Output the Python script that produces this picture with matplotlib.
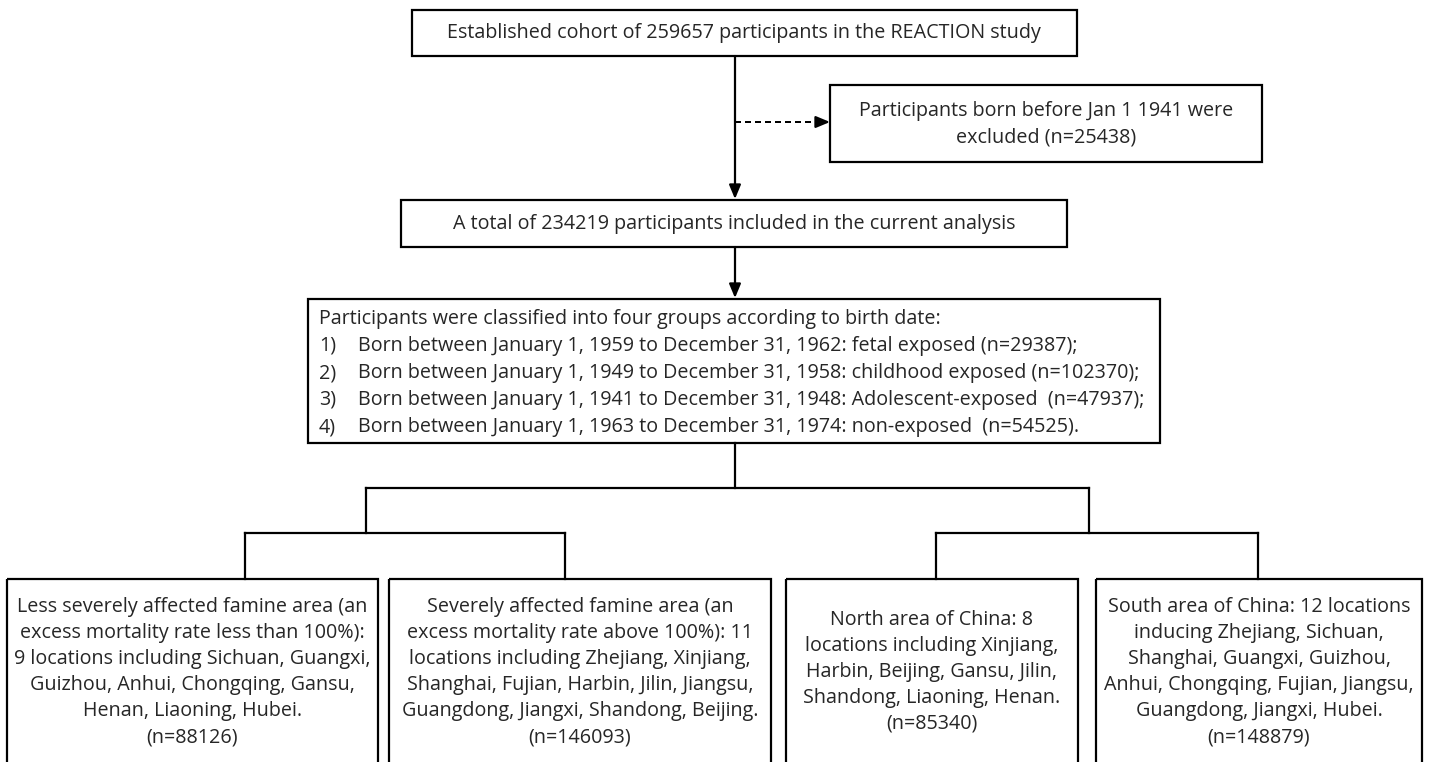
import matplotlib.pyplot as plt
from matplotlib.patches import Rectangle

plt.rcParams['font.family'] = ['Open Sans', 'DejaVu Sans']

# counts shown in the flow chart
cohort_n = 259657
excluded_n = 25438
included_n = 234219

group_start = ["January 1, 1959", "January 1, 1949", "January 1, 1941", "January 1, 1963"]
group_end = ["December 31, 1962", "December 31, 1958", "December 31, 1948", "December 31, 1974"]
group_label = ["fetal exposed ", "childhood exposed ", "Adolescent-exposed  ", "non-exposed  "]
group_n = [29387, 102370, 47937, 54525]
group_tail = [";", ";", ";", "."]

area_lines = [
    ["Less severely affected famine area (an", "excess mortality rate less than 100%):",
     "9 locations including Sichuan, Guangxi,", "Guizhou, Anhui, Chongqing, Gansu,",
     "Henan, Liaoning, Hubei."],
    ["Severely affected famine area (an", "excess mortality rate above 100%): 11",
     "locations including Zhejiang, Xinjiang,", "Shanghai, Fujian, Harbin, Jilin, Jiangsu,",
     "Guangdong, Jiangxi, Shandong, Beijing."],
    ["North area of China: 8", "locations including Xinjiang,",
     "Harbin, Beijing, Gansu, Jilin,", "Shandong, Liaoning, Henan."],
    ["South area of China: 12 locations", "inducing Zhejiang, Sichuan,",
     "Shanghai, Guangxi, Guizhou,", "Anhui, Chongqing, Fujian, Jiangsu,",
     "Guangdong, Jiangxi, Hubei."],
]
area_n = [88126, 146093, 85340, 148879]

W, H = 1432, 762
fig = plt.figure(figsize=(W / 100, H / 100), dpi=100)
ax = fig.add_axes([0, 0, 1, 1])
ax.set_xlim(0, W)
ax.set_ylim(H, 0)
ax.axis("off")

TXT = "#262626"
LW = 1.6

# pick the font size so the heading line of the group box is ~619 px wide
header = "Participants were classified into four groups according to birth date:"
probe = ax.text(0, 0, header, fontsize=12)
r = fig.canvas.get_renderer()
FS = 12 * 619 / probe.get_window_extent(renderer=r).width
probe.remove()


def box(x0, y0, x1, y1):
    ax.add_patch(Rectangle((x0, y0), x1 - x0, y1 - y0, fill=False,
                           edgecolor="black", lw=LW, clip_on=True))


def line(xs, ys, **kw):
    ax.plot(xs, ys, color="black", lw=LW, solid_capstyle="projecting", **kw)


def arrow(x0, y0, x1, y1):
    ax.annotate("", xy=(x1, y1), xytext=(x0, y0),
                arrowprops=dict(arrowstyle="-|>,head_length=0.6,head_width=0.25",
                                color="black", lw=LW, shrinkA=0, shrinkB=0,
                                mutation_scale=14))


def txt(x, y, s, ha="center"):
    ax.text(x, y, s, ha=ha, va="center", fontsize=FS, color=TXT)


# top boxes
box(412, 10, 1077, 56)
txt(744, 33, f"Established cohort of {cohort_n} participants in the REACTION study")

box(830, 85, 1262, 162)
txt(1046, 111, "Participants born before Jan 1 1941 were")
txt(1046, 138, f"excluded (n={excluded_n})")

box(401, 200, 1067, 247)
txt(734, 224, f"A total of {included_n} participants included in the current analysis")

# connectors top part
arrow(735, 56, 735, 199)
ax.plot([735, 822], [122, 122], color="black", lw=LW * 0.9, ls=(0, (3, 2)))
arrow(820, 122, 830, 122)
arrow(735, 247, 735, 298)

# classification box
box(308, 299, 1160, 443)
txt(319, 319, header, ha="left")
for i in range(len(group_n)):
    y = 346 + i * 27
    txt(319, y, f"{i + 1})", ha="left")
    txt(358, y, f"Born between {group_start[i]} to {group_end[i]}: "
                f"{group_label[i]}(n={group_n[i]}){group_tail[i]}", ha="left")

# tree of brackets
line([735, 735], [443, 488])
line([366, 1089], [488, 488])
line([366, 366], [488, 533])
line([1089, 1089], [488, 533])
line([245, 565], [533, 533])
line([936, 1258], [533, 533])
for xd in [245, 565, 936, 1258]:
    line([xd, xd], [533, 579])

# bottom boxes
area_x = [(7, 378), (389, 771), (786, 1078), (1096, 1422)]
for k, (x0, x1) in enumerate(area_x):
    box(x0, 579, x1, 770)
    rows = area_lines[k] + [f"(n={area_n[k]})"]
    cx = (x0 + x1) / 2
    n = len(rows)
    for i, row in enumerate(rows):
        txt(cx, 672 + (i - (n - 1) / 2) * 26, row)

fig.savefig("out.png", dpi=100, facecolor="white")
